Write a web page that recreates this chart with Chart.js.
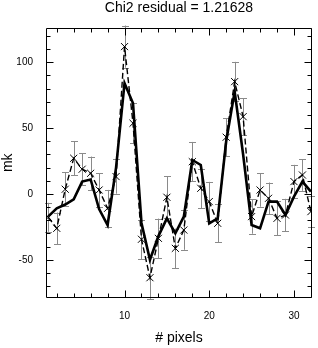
<!DOCTYPE html>
<html><head><meta charset="utf-8">
<script src="https://cdn.jsdelivr.net/npm/chart.js@4"></script>
<style>html,body{margin:0;padding:0;background:#fff}canvas{display:block}</style>
</head><body>
<canvas id="c" width="318" height="348"></canvas>
<script>
const pixels = [1,2,3,4,5,6,7,8,9,10,11,12,13,14,15,16,17,18,19,20,21,22,23,24,25,26,27,28,29,30,31,32];
const dataVals = [-17.7,-26.1,3.6,27.1,18.8,15.7,3.0,-10.9,13.2,111.9,53.7,-34.4,-63.6,-33.7,-2.5,-41.3,-27.4,24.5,4.3,-5.8,-22.3,43.1,85.3,58.7,-17.2,3.0,-3.3,-18.5,-16.0,9.4,14.4,-13.4];
const errVals = [11,12,13,13,12,12.7,12.7,14,13,16,15,15,16,15,16,15,15,15,15,15,14.5,14.5,15,14,13,12.7,12,13,12.3,12.7,12,12];
const modelVals = [-17,-10.9,-8,-4.0,9.4,11,-11.5,-23.6,20,84.1,68.9,-22,-50,-32,-18.5,-29.9,-17.2,25.8,22.0,-22.3,-18.5,40,77.7,30,-23.6,-26.1,-5.8,-5.8,-16.0,-2,9.4,1.8];
const xTickLabels = [10,20,30];
const yTickLabels = [-50,0,50,100];
const xTickMarks = [2,4,6,8,10,12,14,16,18,20,22,24,26,28,30,32];
const yTickMarks = [-70,-60,-50,-40,-30,-20,-10,0,10,20,30,40,50,60,70,80,90,100,110,120];
const xMajor = [10,20,30];
const yMajor = [-50,0,50,100];

const FONT = "'Liberation Sans', Arial, Helvetica, sans-serif";

const framePlugin = {
  id: 'frame',
  beforeDatasetsDraw(chart) {
    const {ctx, scales: {x, y}} = chart;
    ctx.save();
    ctx.strokeStyle = '#8a8a8a';
    ctx.lineWidth = 1;
    pixels.forEach((p, i) => {
      const px = Math.round(x.getPixelForValue(p)) + 0.5;
      const y1 = y.getPixelForValue(dataVals[i] - errVals[i]);
      const y2 = y.getPixelForValue(dataVals[i] + errVals[i]);
      ctx.beginPath();
      ctx.moveTo(px, y1); ctx.lineTo(px, y2);
      ctx.moveTo(px - 3.5, Math.round(y1) + 0.5); ctx.lineTo(px + 3.5, Math.round(y1) + 0.5);
      ctx.moveTo(px - 3.5, Math.round(y2) + 0.5); ctx.lineTo(px + 3.5, Math.round(y2) + 0.5);
      ctx.stroke();
    });
    ctx.restore();
  },
  afterDraw(chart) {
    const {ctx, chartArea: a, scales: {x, y}} = chart;
    const L = Math.round(a.left) + 0.5, R = Math.round(a.right) - 0.5;
    const T = Math.round(a.top) + 0.5, B = Math.round(a.bottom) - 0.5;
    ctx.save();
    ctx.strokeStyle = '#000';
    ctx.lineWidth = 1;
    ctx.beginPath();
    ctx.rect(L, T, R - L, B - T);
    xTickMarks.forEach(v => {
      const px = Math.round(x.getPixelForValue(v)) + 0.5;
      const len = xMajor.includes(v) ? 7 : 4;
      ctx.moveTo(px, B); ctx.lineTo(px, B - len);
      ctx.moveTo(px, T); ctx.lineTo(px, T + len);
    });
    yTickMarks.forEach(v => {
      const py = Math.round(y.getPixelForValue(v)) + 0.5;
      const len = yMajor.includes(v) ? 7 : 4;
      ctx.moveTo(L, py); ctx.lineTo(L + len, py);
      ctx.moveTo(R, py); ctx.lineTo(R - len, py);
    });
    ctx.stroke();
    ctx.restore();
  }
};

new Chart(document.getElementById('c'), {
  type: 'scatter',
  data: {
    datasets: [
      {
        label: 'model',
        data: pixels.map((p, i) => ({x: p, y: modelVals[i]})),
        showLine: true,
        borderColor: '#000',
        borderWidth: 2.6,
        pointRadius: 0,
        tension: 0
      },
      {
        label: 'data',
        data: pixels.map((p, i) => ({x: p, y: dataVals[i]})),
        showLine: true,
        borderColor: '#000',
        borderWidth: 1.4,
        borderDash: [6, 3],
        pointStyle: 'crossRot',
        pointRadius: 5,
        pointBorderWidth: 1,
        pointBorderColor: '#000',
        pointBackgroundColor: '#000',
        tension: 0
      }
    ]
  },
  options: {
    responsive: false,
    animation: false,
    devicePixelRatio: 1,
    events: [],
    layout: {padding: {left: 0, right: 2, top: 0, bottom: 0}},
    plugins: {
      legend: {display: false},
      tooltip: {enabled: false},
      title: {
        display: true,
        text: 'Chi2 residual = 1.21628',
        fullSize: false,
        color: '#000',
        font: {family: FONT, size: 14, weight: 'normal'},
        padding: {top: 0, bottom: 10.7}
      }
    },
    scales: {
      x: {
        type: 'linear',
        position: 'bottom',
        min: 0.73,
        max: 32.13,
        grid: {display: false},
        border: {display: false},
        afterBuildTicks: s => { s.ticks = xTickLabels.map(v => ({value: v})); },
        afterFit: s => { s.height = 50; },
        ticks: {color: '#000', font: {family: FONT, size: 10}, padding: 4, maxRotation: 0, autoSkip: false},
        title: {display: true, text: '# pixels', color: '#000', font: {family: FONT, size: 14}, padding: {top: 0, bottom: 1}}
      },
      y: {
        type: 'linear',
        position: 'left',
        min: -79,
        max: 126.4,
        grid: {display: false},
        border: {display: false},
        afterBuildTicks: s => { s.ticks = yTickLabels.map(v => ({value: v})); },
        afterFit: s => { s.width = 46; },
        ticks: {color: '#000', font: {family: FONT, size: 10}, padding: 5, autoSkip: false},
        title: {display: true, text: 'mk', color: '#000', font: {family: FONT, size: 14}, padding: {top: 0, bottom: 0}}
      }
    }
  },
  plugins: [framePlugin]
});
</script>
</body></html>
